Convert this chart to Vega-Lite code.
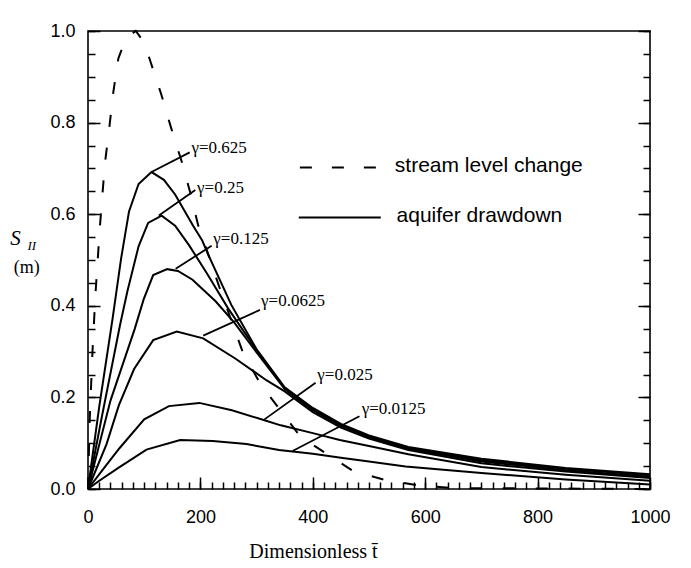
{
  "$schema": "https://vega.github.io/schema/vega-lite/v6.json",
  "width": 562,
  "height": 458,
  "autosize": {"type": "none"},
  "padding": {"left": 88, "top": 31, "right": 41, "bottom": 79},
  "background": "white",
  "config": {
    "view": {"stroke": "black", "strokeWidth": 1.6},
    "axis": {"domain": false, "grid": false, "tickColor": "black", "labelColor": "black", "labelFont": "Liberation Sans", "labelFontSize": 18, "tickWidth": 1.5, "zindex": 1}
  },
  "datasets": {
    "curves": [
      {"g": "0.625", "t": 0, "s": 0}, {"g": "0.625", "t": 20, "s": 0.18}, {"g": "0.625", "t": 44, "s": 0.374}, {"g": "0.625", "t": 59, "s": 0.504}, {"g": "0.625", "t": 73, "s": 0.606}, {"g": "0.625", "t": 90, "s": 0.666}, {"g": "0.625", "t": 113, "s": 0.692}, {"g": "0.625", "t": 135, "s": 0.675}, {"g": "0.625", "t": 155, "s": 0.643}, {"g": "0.625", "t": 187, "s": 0.575}, {"g": "0.625", "t": 203, "s": 0.543}, {"g": "0.625", "t": 219, "s": 0.498}, {"g": "0.625", "t": 255, "s": 0.402}, {"g": "0.625", "t": 300, "s": 0.305}, {"g": "0.625", "t": 350, "s": 0.222}, {"g": "0.625", "t": 400, "s": 0.177}, {"g": "0.625", "t": 450, "s": 0.142}, {"g": "0.625", "t": 500, "s": 0.117}, {"g": "0.625", "t": 570, "s": 0.092}, {"g": "0.625", "t": 700, "s": 0.066}, {"g": "0.625", "t": 850, "s": 0.046}, {"g": "0.625", "t": 1000, "s": 0.032},
      {"g": "0.25", "t": 0, "s": 0}, {"g": "0.25", "t": 25, "s": 0.16}, {"g": "0.25", "t": 57, "s": 0.358}, {"g": "0.25", "t": 70, "s": 0.431}, {"g": "0.25", "t": 90, "s": 0.53}, {"g": "0.25", "t": 107, "s": 0.581}, {"g": "0.25", "t": 131, "s": 0.597}, {"g": "0.25", "t": 155, "s": 0.575}, {"g": "0.25", "t": 180, "s": 0.532}, {"g": "0.25", "t": 212, "s": 0.47}, {"g": "0.25", "t": 249, "s": 0.395}, {"g": "0.25", "t": 300, "s": 0.303}, {"g": "0.25", "t": 350, "s": 0.22}, {"g": "0.25", "t": 400, "s": 0.175}, {"g": "0.25", "t": 450, "s": 0.14}, {"g": "0.25", "t": 500, "s": 0.115}, {"g": "0.25", "t": 570, "s": 0.09}, {"g": "0.25", "t": 700, "s": 0.063}, {"g": "0.25", "t": 850, "s": 0.044}, {"g": "0.25", "t": 1000, "s": 0.03},
      {"g": "0.125", "t": 0, "s": 0}, {"g": "0.125", "t": 40, "s": 0.193}, {"g": "0.125", "t": 83, "s": 0.349}, {"g": "0.125", "t": 99, "s": 0.414}, {"g": "0.125", "t": 116, "s": 0.467}, {"g": "0.125", "t": 141, "s": 0.48}, {"g": "0.125", "t": 160, "s": 0.476}, {"g": "0.125", "t": 186, "s": 0.457}, {"g": "0.125", "t": 227, "s": 0.41}, {"g": "0.125", "t": 260, "s": 0.364}, {"g": "0.125", "t": 300, "s": 0.298}, {"g": "0.125", "t": 350, "s": 0.218}, {"g": "0.125", "t": 400, "s": 0.172}, {"g": "0.125", "t": 450, "s": 0.138}, {"g": "0.125", "t": 500, "s": 0.113}, {"g": "0.125", "t": 570, "s": 0.088}, {"g": "0.125", "t": 700, "s": 0.06}, {"g": "0.125", "t": 850, "s": 0.041}, {"g": "0.125", "t": 1000, "s": 0.027},
      {"g": "0.0625", "t": 0, "s": 0}, {"g": "0.0625", "t": 33, "s": 0.098}, {"g": "0.0625", "t": 55, "s": 0.183}, {"g": "0.0625", "t": 82, "s": 0.262}, {"g": "0.0625", "t": 116, "s": 0.325}, {"g": "0.0625", "t": 158, "s": 0.344}, {"g": "0.0625", "t": 205, "s": 0.329}, {"g": "0.0625", "t": 262, "s": 0.285}, {"g": "0.0625", "t": 318, "s": 0.237}, {"g": "0.0625", "t": 350, "s": 0.213}, {"g": "0.0625", "t": 400, "s": 0.168}, {"g": "0.0625", "t": 450, "s": 0.134}, {"g": "0.0625", "t": 500, "s": 0.11}, {"g": "0.0625", "t": 570, "s": 0.085}, {"g": "0.0625", "t": 700, "s": 0.056}, {"g": "0.0625", "t": 850, "s": 0.038}, {"g": "0.0625", "t": 1000, "s": 0.024},
      {"g": "0.025", "t": 0, "s": 0}, {"g": "0.025", "t": 25, "s": 0.04}, {"g": "0.025", "t": 56, "s": 0.089}, {"g": "0.025", "t": 100, "s": 0.152}, {"g": "0.025", "t": 144, "s": 0.181}, {"g": "0.025", "t": 198, "s": 0.188}, {"g": "0.025", "t": 256, "s": 0.172}, {"g": "0.025", "t": 314, "s": 0.15}, {"g": "0.025", "t": 343, "s": 0.139}, {"g": "0.025", "t": 400, "s": 0.122}, {"g": "0.025", "t": 448, "s": 0.107}, {"g": "0.025", "t": 500, "s": 0.094}, {"g": "0.025", "t": 570, "s": 0.076}, {"g": "0.025", "t": 700, "s": 0.048}, {"g": "0.025", "t": 850, "s": 0.031}, {"g": "0.025", "t": 1000, "s": 0.018},
      {"g": "0.0125", "t": 0, "s": 0}, {"g": "0.0125", "t": 20, "s": 0.018}, {"g": "0.0125", "t": 54, "s": 0.046}, {"g": "0.0125", "t": 104, "s": 0.086}, {"g": "0.0125", "t": 164, "s": 0.107}, {"g": "0.0125", "t": 222, "s": 0.105}, {"g": "0.0125", "t": 282, "s": 0.098}, {"g": "0.0125", "t": 340, "s": 0.085}, {"g": "0.0125", "t": 400, "s": 0.077}, {"g": "0.0125", "t": 450, "s": 0.068}, {"g": "0.0125", "t": 500, "s": 0.06}, {"g": "0.0125", "t": 565, "s": 0.049}, {"g": "0.0125", "t": 700, "s": 0.035}, {"g": "0.0125", "t": 850, "s": 0.021}, {"g": "0.0125", "t": 1000, "s": 0.01}
    ],
    "stream": [
      {"t": 0, "s": 0}, {"t": 3, "s": 0.15}, {"t": 8, "s": 0.3}, {"t": 13, "s": 0.42}, {"t": 21, "s": 0.57}, {"t": 30, "s": 0.71}, {"t": 38, "s": 0.79}, {"t": 45, "s": 0.866}, {"t": 54, "s": 0.94}, {"t": 68, "s": 0.985}, {"t": 85, "s": 1.0}, {"t": 100, "s": 0.975}, {"t": 112, "s": 0.93}, {"t": 130, "s": 0.863}, {"t": 148, "s": 0.788}, {"t": 167, "s": 0.714}, {"t": 182, "s": 0.647}, {"t": 196, "s": 0.576}, {"t": 237, "s": 0.429}, {"t": 276, "s": 0.297}, {"t": 307, "s": 0.229}, {"t": 378, "s": 0.114}, {"t": 472, "s": 0.039}, {"t": 528, "s": 0.02}, {"t": 586, "s": 0.008}, {"t": 650, "s": 0.002}, {"t": 1000, "s": 0}
    ],
    "leaders": [
      {"g": "0.625", "t": 113, "s": 0.692, "t2": 181, "s2": 0.735},
      {"g": "0.25", "t": 126, "s": 0.597, "t2": 191, "s2": 0.653},
      {"g": "0.125", "t": 156, "s": 0.481, "t2": 220, "s2": 0.531},
      {"g": "0.0625", "t": 205, "s": 0.335, "t2": 306, "s2": 0.391},
      {"g": "0.025", "t": 314, "s": 0.152, "t2": 405, "s2": 0.232},
      {"g": "0.0125", "t": 364, "s": 0.083, "t2": 483, "s2": 0.159}
    ],
    "labels": [
      {"label": "γ=0.625", "t": 184, "s": 0.745},
      {"label": "γ=0.25", "t": 194, "s": 0.658},
      {"label": "γ=0.125", "t": 223, "s": 0.545},
      {"label": "γ=0.0625", "t": 308, "s": 0.41},
      {"label": "γ=0.025", "t": 408, "s": 0.25},
      {"label": "γ=0.0125", "t": 487, "s": 0.175}
    ],
    "legendLines": [
      {"kind": "stream", "t": 377, "t2": 514, "s": 0.702},
      {"kind": "aquifer", "t": 375, "t2": 521, "s": 0.593}
    ],
    "legendText": [
      {"label": "stream level change", "t": 546, "s": 0.706},
      {"label": "aquifer drawdown", "t": 549, "s": 0.596}
    ],
    "ytitle": [
      {"part": "S", "t": -129, "s": 0.545},
      {"part": "II", "t": -100, "s": 0.53},
      {"part": "(m)", "t": -109, "s": 0.482}
    ]
  },
  "layer": [
    {
      "data": {"name": "curves"},
      "mark": {"type": "line", "color": "black", "strokeWidth": 2},
      "encoding": {
        "x": {"field": "t", "type": "quantitative", "scale": {"domain": [0, 1000], "nice": false},
          "axis": {
            "orient": "bottom",
            "values": [0,20,40,60,80,100,120,140,160,180,200,220,240,260,280,300,320,340,360,380,400,420,440,460,480,500,520,540,560,580,600,620,640,660,680,700,720,740,760,780,800,820,840,860,880,900,920,940,960,980,1000],
            "labels": false,
            "tickSize": -7,
            "title": null
          }
        },
        "y": {"field": "s", "type": "quantitative", "scale": {"domain": [0, 1], "nice": false},
          "axis": {
            "orient": "left",
            "values": [0,0.05,0.1,0.15,0.2,0.25,0.3,0.35,0.4,0.45,0.5,0.55,0.6,0.65,0.7,0.75,0.8,0.85,0.9,0.95,1],
            "labels": false,
            "tickSize": -7,
            "title": null
          }
        },
        "detail": {"field": "g", "type": "nominal"}
      }
    },
    {
      "data": {"name": "stream"},
      "mark": {"type": "line", "color": "black", "strokeWidth": 2, "strokeDash": [12, 21]},
      "encoding": {
        "x": {"field": "t", "type": "quantitative",
          "axis": {
            "orient": "bottom",
            "values": [0, 200, 400, 600, 800, 1000],
            "format": "d",
            "labelFlush": false,
            "labelPadding": 31,
            "tickSize": -12,
            "title": "Dimensionless t̄",
            "titleFont": "Liberation Serif",
            "titleFontSize": 20,
            "titleFontWeight": "normal",
            "titlePadding": 15,
            "titleX": 225
          }
        },
        "y": {"field": "s", "type": "quantitative",
          "axis": {
            "orient": "left",
            "values": [0, 0.2, 0.4, 0.6, 0.8, 1],
            "format": ".1f",
            "labelPadding": 25,
            "tickSize": -12,
            "title": null
          }
        }
      }
    },
    {
      "data": {"name": "leaders"},
      "mark": {"type": "rule", "color": "black", "strokeWidth": 1.8},
      "encoding": {
        "x": {"field": "t", "type": "quantitative", "axis": null},
        "y": {"field": "s", "type": "quantitative",
          "axis": {
            "orient": "right",
            "values": [0,0.05,0.1,0.15,0.2,0.25,0.3,0.35,0.4,0.45,0.5,0.55,0.6,0.65,0.7,0.75,0.8,0.85,0.9,0.95,1],
            "labels": false,
            "tickSize": -7,
            "title": null
          }
        },
        "x2": {"field": "t2"},
        "y2": {"field": "s2"}
      }
    },
    {
      "data": {"name": "labels"},
      "mark": {"type": "text", "align": "left", "baseline": "middle", "font": "Liberation Serif", "fontSize": 17, "color": "black"},
      "encoding": {
        "x": {"field": "t", "type": "quantitative", "axis": null},
        "y": {"field": "s", "type": "quantitative",
          "axis": {
            "orient": "right",
            "values": [0, 0.2, 0.4, 0.6, 0.8, 1],
            "labels": false,
            "tickSize": -12,
            "title": null
          }
        },
        "text": {"field": "label"}
      }
    },
    {
      "data": {"name": "legendLines"},
      "mark": {"type": "rule", "color": "black", "strokeWidth": 2},
      "encoding": {
        "x": {"field": "t", "type": "quantitative", "axis": null},
        "y": {"field": "s", "type": "quantitative", "axis": null},
        "x2": {"field": "t2"},
        "strokeDash": {"field": "kind", "type": "nominal", "scale": {"domain": ["stream", "aquifer"], "range": [[12, 20], [1, 0]]}, "legend": null}
      }
    },
    {
      "data": {"name": "legendText"},
      "mark": {"type": "text", "align": "left", "baseline": "middle", "font": "Liberation Sans", "fontSize": 21, "color": "black"},
      "encoding": {
        "x": {"field": "t", "type": "quantitative", "axis": null},
        "y": {"field": "s", "type": "quantitative", "axis": null},
        "text": {"field": "label"}
      }
    },
    {
      "data": {"name": "ytitle"},
      "transform": [{"filter": "datum.part === 'S'"}],
      "mark": {"type": "text", "align": "center", "baseline": "middle", "font": "Liberation Serif", "fontStyle": "italic", "fontSize": 21, "color": "black"},
      "encoding": {
        "x": {"field": "t", "type": "quantitative", "axis": null},
        "y": {"field": "s", "type": "quantitative", "axis": null},
        "text": {"field": "part"}
      }
    },
    {
      "data": {"name": "ytitle"},
      "transform": [{"filter": "datum.part === 'II'"}],
      "mark": {"type": "text", "align": "center", "baseline": "middle", "font": "Liberation Serif", "fontStyle": "italic", "fontSize": 13, "color": "black"},
      "encoding": {
        "x": {"field": "t", "type": "quantitative", "axis": null},
        "y": {"field": "s", "type": "quantitative", "axis": null},
        "text": {"field": "part"}
      }
    },
    {
      "data": {"name": "ytitle"},
      "transform": [{"filter": "datum.part === '(m)'"}],
      "mark": {"type": "text", "align": "center", "baseline": "middle", "font": "Liberation Serif", "fontSize": 18, "color": "black"},
      "encoding": {
        "x": {"field": "t", "type": "quantitative", "axis": null},
        "y": {"field": "s", "type": "quantitative", "axis": null},
        "text": {"field": "part"}
      }
    }
  ],
  "resolve": {"axis": {"x": "independent", "y": "independent"}}
}
